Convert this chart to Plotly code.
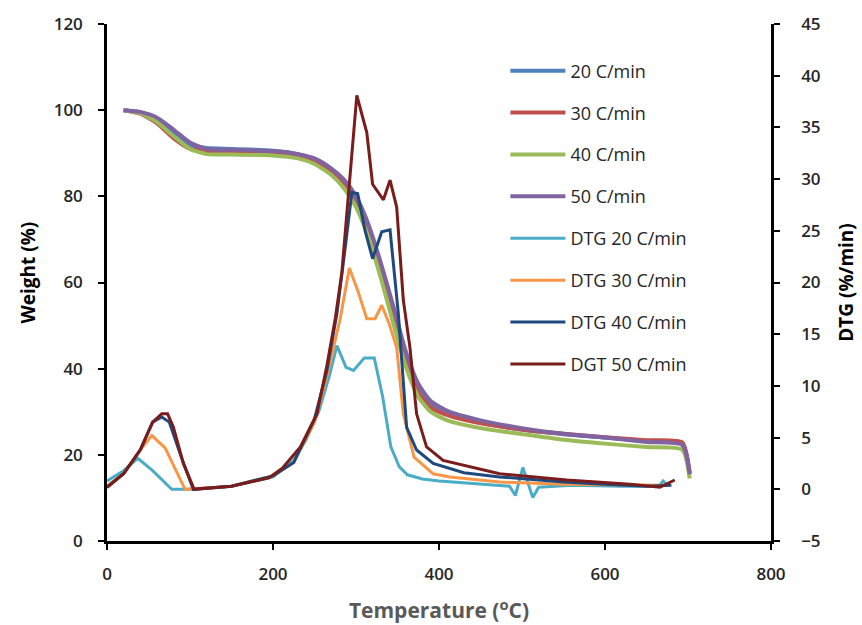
import plotly.graph_objects as go

# ---- Weight (TGA) data ----
T_w = [20, 40, 60, 80, 100, 120, 150, 200, 230, 250, 270, 285, 300, 315, 330, 345, 360, 375, 390, 410, 450, 500, 550, 600, 650, 693, 702]
w20 = [100, 99.5, 98, 95, 92, 91.2, 91, 90.6, 89.8, 88.5, 86, 83, 79, 72, 63.5, 53, 42.5, 35, 31.5, 29.5, 27.5, 25.8, 24.8, 24.0, 23.2, 22.6, 16]
w30 = [100, 99.2, 97, 93.5, 91, 90.5, 90.5, 90.2, 89.5, 88, 85.5, 82.5, 78, 71, 62, 51.5, 41.5, 34.5, 31, 29.2, 27.3, 25.9, 24.9, 24.1, 23.4, 22.9, 15.5]
w40 = [100, 99.3, 97.3, 94, 91, 89.8, 89.7, 89.5, 88.8, 87.5, 85, 82, 77.5, 70.5, 61, 50.5, 40.5, 33.5, 30, 28, 26.2, 24.8, 23.5, 22.6, 21.8, 21.2, 14.5]
w50 = [100, 99.6, 98.3, 95.5, 92.5, 91, 90.8, 90.5, 89.8, 88.8, 86.5, 84, 80, 73.5, 64.5, 54.5, 44, 36.5, 32.5, 30.2, 28, 26.2, 24.9, 24.0, 23.0, 22.3, 15.5]

# ---- DTG data ----
T_d20 = [0, 20, 37, 55, 78, 100, 150, 200, 225, 240, 255, 268, 277, 288, 297, 310, 322, 332, 342, 352, 362, 380, 400, 450, 485, 492, 501, 513, 520, 560, 620, 665, 670, 675]
d20 = [0.8, 1.8, 3.0, 1.8, 0.0, 0.0, 0.3, 1.2, 2.8, 4.8, 7.5, 11.0, 13.9, 11.8, 11.5, 12.7, 12.7, 9.0, 4.1, 2.2, 1.4, 1.0, 0.8, 0.5, 0.3, -0.6, 2.1, -0.8, 0.2, 0.4, 0.3, 0.3, 0.8, 0.4]

T_d30 = [0, 20, 40, 54, 70, 94, 150, 200, 225, 250, 265, 275, 281, 292, 303, 313, 323, 331, 340, 349, 357, 370, 393, 413, 473, 550, 620, 670]
d30 = [0.3, 1.5, 3.8, 5.2, 4.0, 0.0, 0.3, 1.3, 2.6, 6.5, 11.0, 14.5, 16.5, 21.4, 19.0, 16.5, 16.5, 17.8, 16.0, 13.7, 7.3, 3.1, 1.5, 1.2, 0.7, 0.5, 0.4, 0.4]

T_d40 = [0, 20, 40, 55, 66, 75, 90, 104, 150, 200, 225, 250, 265, 277, 288, 295, 302, 311, 320, 331, 341, 351, 361, 373, 393, 430, 473, 500, 550, 600, 650, 680]
d40 = [0.2, 1.5, 3.8, 6.5, 7.0, 6.5, 3.0, 0.0, 0.3, 1.3, 2.6, 6.8, 11.5, 17.0, 24.0, 28.7, 28.6, 25.0, 22.3, 24.9, 25.1, 17.0, 6.0, 3.8, 2.5, 1.6, 1.2, 1.0, 0.7, 0.5, 0.3, 0.4]

T_d50 = [0, 20, 40, 55, 66, 73, 80, 92, 105, 150, 195, 200, 212, 233, 253, 265, 275, 283, 301, 308, 313, 320, 333, 341, 349, 357, 365, 373, 385, 405, 473, 554, 630, 666, 684]
d50 = [0.2, 1.5, 3.8, 6.5, 7.3, 7.3, 6.0, 2.5, 0.0, 0.3, 1.1, 1.4, 2.1, 4.1, 7.3, 12.0, 16.5, 21.0, 38.1, 36.0, 34.5, 29.5, 28.0, 29.9, 27.3, 18.3, 13.7, 7.3, 4.1, 2.8, 1.5, 0.9, 0.5, 0.2, 0.9]

FONT = "Open Sans"
fig = go.Figure()

weight_series = [
    ("20 C/min", w20, "#4F81BD"),
    ("30 C/min", w30, "#C0504D"),
    ("40 C/min", w40, "#9BBB59"),
    ("50 C/min", w50, "#8064A2"),
]
for i, (name, ys, col) in enumerate(weight_series):
    fig.add_trace(go.Scatter(x=T_w, y=ys, name=name, mode="lines",
                             line=dict(color=col, width=4, shape="spline", smoothing=0.6),
                             legendgroup=f"g{i}", yaxis="y"))

dtg_series = [
    ("DTG 20 C/min", T_d20, d20, "#4BACC6"),
    ("DTG 30 C/min", T_d30, d30, "#F79646"),
    ("DTG 40 C/min", T_d40, d40, "#1F497D"),
    ("DGT 50 C/min", T_d50, d50, "#7B1C1C"),
]
for i, (name, xs, ys, col) in enumerate(dtg_series):
    fig.add_trace(go.Scatter(x=xs, y=ys, name=name, mode="lines",
                             line=dict(color=col, width=3),
                             legendgroup=f"d{i}", yaxis="y2"))

axis_common = dict(showline=True, linecolor="black", linewidth=2.5,
                   ticks="outside", ticklen=6, tickwidth=2, tickcolor="black",
                   showgrid=False, zeroline=False, automargin=False,
                   tickfont=dict(family=FONT, size=17, color="#262626", weight=600))

fig.update_layout(
    width=862, height=625,
    margin=dict(l=107, r=91, t=24, b=84),
    paper_bgcolor="white", plot_bgcolor="white",
    xaxis=dict(range=[0, 800], dtick=200, tick0=0, ticklabelstandoff=10,
               title=dict(text="Temperature (<sup>o</sup>C)", standoff=20,
                          font=dict(family=FONT, size=21, color="#595959", weight="bold")),
               **axis_common),
    yaxis=dict(range=[0, 120], dtick=20, tick0=0, ticklabelstandoff=12,
               title=dict(text="&nbsp;&nbsp;&nbsp;&nbsp;Weight (%)", standoff=14,
                          font=dict(family=FONT, size=19, color="black", weight="bold")),
               **axis_common),
    yaxis2=dict(range=[-5, 45], dtick=5, tick0=-5, overlaying="y", side="right",
                ticklabelstandoff=18,
                title=dict(text="DTG (%/min)", standoff=21,
                           font=dict(family=FONT, size=19, color="black", weight="bold")),
                **axis_common),
    legend=dict(x=0.6, y=0.945, xanchor="left", yanchor="top",
                font=dict(family=FONT, size=18, color="#262626"),
                itemwidth=55,
                tracegroupgap=15.5, bgcolor="rgba(0,0,0,0)"),
    showlegend=True,
)

fig.write_html("out.html", config={"displayModeBar": False},
               post_script="document.body.style.margin='0px';")
